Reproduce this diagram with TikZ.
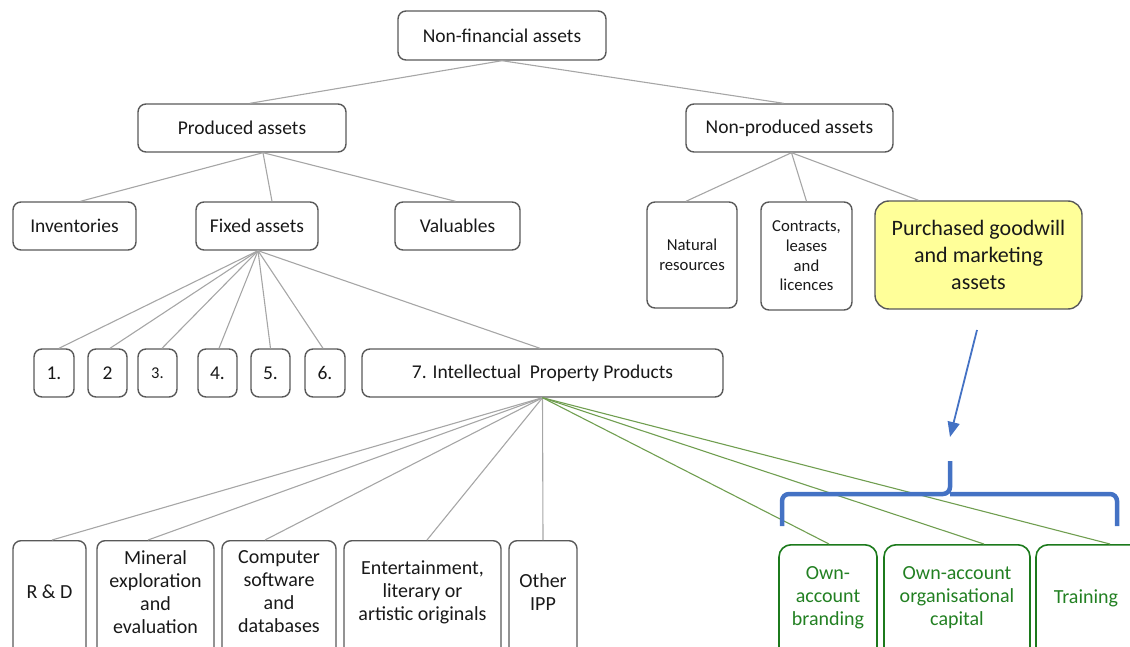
\documentclass[tikz,border=0pt]{standalone}
\usepackage{fontspec}
\setmainfont{Carlito}
\usetikzlibrary{calc,arrows.meta}
\definecolor{boxgray}{RGB}{89,89,89}
\definecolor{linegray}{RGB}{166,166,166}
\definecolor{txtcol}{RGB}{25,25,25}
\definecolor{glines}{RGB}{112,158,80}
\definecolor{gborder}{RGB}{28,122,28}
\definecolor{gtext}{RGB}{34,128,34}
\definecolor{yfill}{RGB}{255,255,153}
\definecolor{bluec}{RGB}{68,114,196}
\begin{document}
\begin{tikzpicture}[x=1pt,y=-1pt,
  box/.style={draw=boxgray, line width=1.4pt, rounded corners=8pt, align=center, inner sep=0pt, text=txtcol, font=\fontsize{19.5}{23}\selectfont},
  gbox/.style={draw=gborder, line width=1.6pt, rounded corners=12pt, inner sep=0pt},
  btxt/.style={align=center, inner sep=0pt, text=txtcol, font=\fontsize{20}{23}\selectfont},
  gtxt/.style={align=center, inner sep=0pt, text=gtext, font=\fontsize{20}{23}\selectfont},
  conn/.style={draw=linegray, line width=1.1pt},
  gconn/.style={draw=glines, line width=1.1pt}]
\useasboundingbox (0,0) rectangle (1130,647);
\clip (0,0) rectangle (1130,647);
% level 1
\node[box, minimum width=208, minimum height=49] (nfa) at (502,35.5) {Non-financial assets};
% level 2
\node[box, minimum width=208, minimum height=48] (pa) at (242,128) {Produced assets};
\node[box, minimum width=207, minimum height=48] (npa) at (789.5,128) {Non-produced assets};
% level 3
\node[box, minimum width=123, minimum height=48] (inv) at (74.5,226) {Inventories};
\node[box, minimum width=122, minimum height=48] (fa) at (257,226) {Fixed assets};
\node[box, minimum width=125, minimum height=48] (val) at (457.5,226) {Valuables};
\node[box, minimum width=90, minimum height=106, font=\fontsize{16.7}{20}\selectfont] (nat) at (692,255) {Natural\\resources};
\node[box, minimum width=91, minimum height=108, font=\fontsize{16.7}{19.7}\selectfont] (con) at (806.5,256) {Contracts,\\leases\\and\\licences};
\node[box, fill=yfill, minimum width=207, minimum height=108, rounded corners=14pt, font=\fontsize{22}{27}\selectfont] (pg) at (978.5,255) {Purchased goodwill\\and marketing\\assets};
% level 4
\node[box, minimum width=40, minimum height=48] (n1) at (54,373) {1.};
\node[box, minimum width=39, minimum height=48] (n2) at (107.5,373) {2};
\node[box, minimum width=39, minimum height=48, font=\fontsize{16.5}{20}\selectfont] (n3) at (157.5,373) {3.};
\node[box, minimum width=39, minimum height=48] (n4) at (217.5,373) {4.};
\node[box, minimum width=39, minimum height=48] (n5) at (270.5,373) {5.};
\node[box, minimum width=40, minimum height=48] (n6) at (325,373) {6.};
\node[box, minimum width=361, minimum height=48] (ipp) at (542.5,373) {7. Intellectual\ \ Property Products};
% level 5 boxes (extend below the page)
\node[box, minimum width=73, minimum height=150, anchor=north] (rd) at (49.5,540) {};
\node[box, minimum width=117, minimum height=150, anchor=north] (min) at (155.5,540) {};
\node[box, minimum width=114, minimum height=150, anchor=north] (cs) at (279,540) {};
\node[box, minimum width=157, minimum height=150, anchor=north] (ent) at (422.5,540) {};
\node[box, minimum width=68, minimum height=150, anchor=north] (oth) at (543,540) {};
\node[gbox, minimum width=98, minimum height=150, anchor=north] (br) at (828,544) {};
\node[gbox, minimum width=146, minimum height=150, anchor=north] (org) at (957,544) {};
\node[gbox, minimum width=110, minimum height=150, anchor=north] (tr) at (1091,544) {};
\node[btxt] (rdt) at (49.5,592) {R \& D};
\node[btxt] (mint) at (155.5,592) {Mineral\\exploration\\and\\evaluation};
\node[btxt] (cst) at (279,592) {Computer\\software\\and\\databases};
\node[btxt] (entt) at (422.5,592) {Entertainment,\\literary or\\artistic originals};
\node[btxt] (otht) at (543,592) {Other\\IPP};
\node[gtxt] (brt) at (828,598) {Own-\\account\\branding};
\node[gtxt] (orgt) at (957,598) {Own-account\\organisational\\capital};
\node[gtxt] (trt) at (1086,598) {Training};
% connectors
\draw[conn] (nfa.south) -- ($(pa.north)+(8,0)$);
\draw[conn] (nfa.south) -- ($(npa.north)+(-6,0)$);
\coordinate (pab) at ($(pa.south)+(21,0)$);
\draw[conn] (pab) -- ($(inv.north)+(6,0)$);
\draw[conn] (pab) -- ($(fa.north)+(15,0)$);
\draw[conn] (pab) -- ($(val.north)+(-2,0)$);
\coordinate (npab) at ($(npa.south)+(2,0)$);
\draw[conn] (npab) -- ($(nat.north)+(-6,0)$);
\draw[conn] (npab) -- (con.north);
\draw[conn] (npab) -- ($(pg.north)+(-60,0)$);
\coordinate (fab) at ($(fa.south)+(1,0)$);
\draw[conn] (fab) -- ($(n1.north)+(5,0)$);
\draw[conn] (fab) -- ($(n2.north)+(2.5,0)$);
\draw[conn] (fab) -- ($(n3.north)+(4.5,0)$);
\draw[conn] (fab) -- ($(n4.north)+(1.5,0)$);
\draw[conn] (fab) -- (n5.north);
\draw[conn] (fab) -- ($(n6.north)+(-2,0)$);
\draw[conn] (fab) -- ($(ipp.north)+(-2.5,0)$);
\coordinate (ippb) at (ipp.south);
\draw[conn] (ippb) -- ($(rd.north)+(2.5,0)$);
\draw[conn] (ippb) -- ($(min.north)+(-7.5,0)$);
\draw[conn] (ippb) -- ($(cs.north)+(-14,0)$);
\draw[conn] (ippb) -- ($(ent.north)+(4.5,0)$);
\draw[conn] (ippb) -- (oth.north);
\draw[gconn] (ippb) -- ($(br.north)+(1,0)$);
\draw[gconn] (ippb) -- ($(org.north)+(27,0)$);
\draw[gconn] (ippb) -- ($(tr.north)+(19,0)$);
% blue arrow and brace
\coordinate (arrs) at (977,330);
\coordinate (arre) at (950,437);
\draw[bluec, line width=1.8pt, -{Triangle[length=15pt,width=12pt]}] (arrs) -- (arre);
\draw[bluec, line width=4.5pt, rounded corners=7pt] (782,526) -- (782,494) -- (950,494) -- (950,461);
\draw[bluec, line width=4.5pt, rounded corners=7pt] (1117,526) -- (1117,494) -- (950,494);
\end{tikzpicture}
\end{document}
